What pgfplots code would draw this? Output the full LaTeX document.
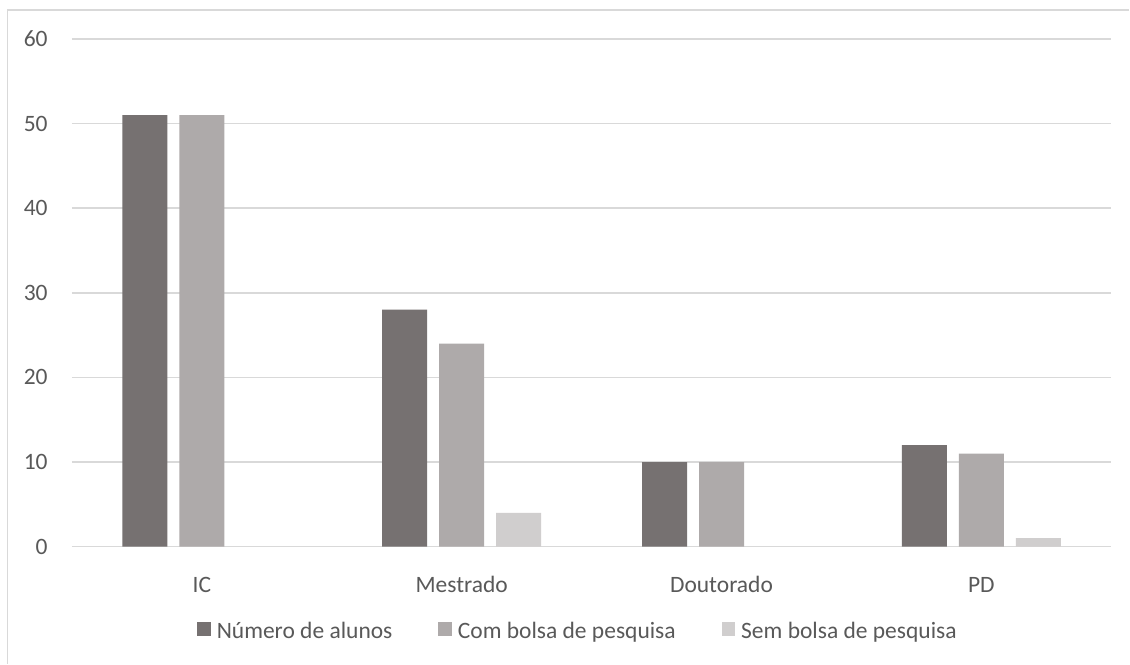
\documentclass[border=0pt]{standalone}
\usepackage{pgfplots}
\pgfplotsset{compat=1.18}
\usepackage{fontspec}
\setmainfont{Carlito}
\definecolor{cDark}{HTML}{767171}
\definecolor{cMid}{HTML}{AEAAAA}
\definecolor{cLight}{HTML}{D0CECE}
\definecolor{tickgray}{HTML}{595959}
\definecolor{gridgray}{HTML}{D9D9D9}
\begin{document}
\begin{tikzpicture}
\fill[white] (-36pt,-58.5pt) rectangle (529pt,273.5pt);
\begin{axis}[
  at={(0,0)}, anchor=south west,
  scale only axis,
  width=520pt, height=254pt,
  xmin=-0.5, xmax=3.5,
  ymin=0, ymax=60,
  ytick={0,10,...,60},
  xtick={0,1,2,3},
  xticklabels={IC,Mestrado,Doutorado,PD},
  ybar=6pt,
  bar width=22.5pt,
  axis line style={draw=none},
  tick style={draw=none},
  ymajorgrids,
  grid style={gridgray, line width=0.75pt},
  tick label style={font=\fontsize{11.75}{14}\selectfont, text=tickgray},
  /pgf/number format/assume math mode=true,
  yticklabel style={inner sep=0pt, xshift=-12pt},
  xticklabel style={anchor=base, inner sep=0pt, yshift=-18.5pt},
  legend style={at={(0.1202,-0.1673)}, anchor=west, draw=none, fill=none,
    legend columns=3, inner sep=0pt, row sep=0pt,
    font=\fontsize{11.75}{14}\selectfont, text=tickgray,
    nodes={inner sep=1pt},
    /tikz/every odd column/.append style={column sep=2pt},
    /tikz/every even column/.append style={column sep=22pt}},
  legend image code/.code={\fill[#1] (0pt,-2pt) rectangle (6.75pt,4.75pt);},
]
\addplot[fill=cDark, draw=none] coordinates {(0,51) (1,28) (2,10) (3,12)};
\addplot[fill=cMid, draw=none] coordinates {(0,51) (1,24) (2,10) (3,11)};
\addplot[fill=cLight, draw=none] coordinates {(1,4) (3,1)};
\legend{Número de alunos, Com bolsa de pesquisa, Sem bolsa de pesquisa}
\end{axis}
\draw[gridgray, line width=0.75pt] (-32.25pt,-58.5pt) -- (-32.25pt,268.5pt) -- (529pt,268.5pt);
\path[use as bounding box] (-36pt,-58.5pt) rectangle (529pt,273.5pt);
\end{tikzpicture}
\end{document}
